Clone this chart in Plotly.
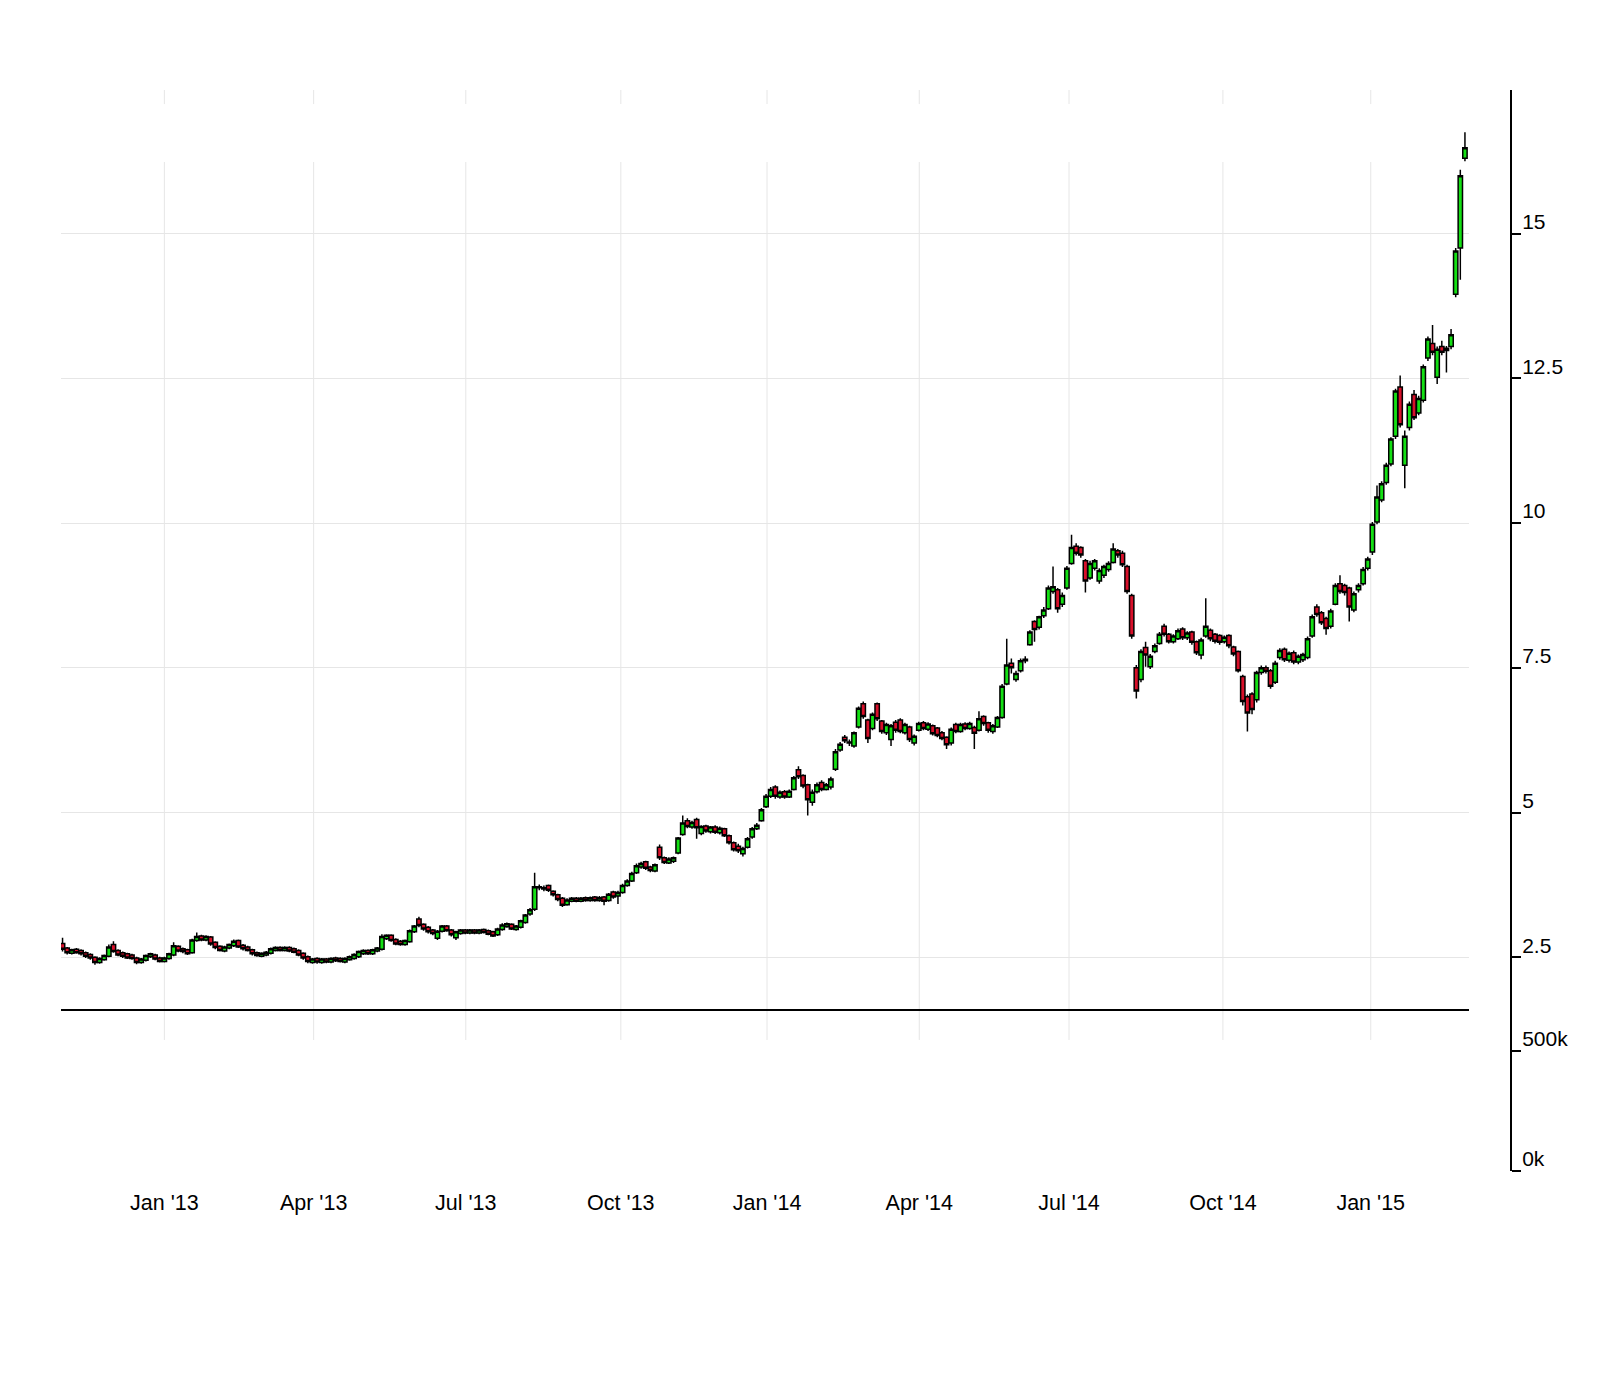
import pandas as pd
import plotly.graph_objects as go

# ---------------- data (one candle every 2nd trading day) ----------------
TRADE_DATES = pd.bdate_range("2012-11-01", "2015-02-27")[::2] + pd.Timedelta(hours=12)

OPEN = [
    2.74, 2.66, 2.57, 2.64, 2.62, 2.58, 2.55, 2.50, 2.41, 2.46,
    2.52, 2.72, 2.62, 2.58, 2.56, 2.54, 2.49, 2.41, 2.45, 2.51,
    2.54, 2.49, 2.43, 2.48, 2.54, 2.69, 2.65, 2.63, 2.58, 2.79,
    2.87, 2.80, 2.85, 2.76, 2.69, 2.61, 2.66, 2.70, 2.79, 2.71,
    2.68, 2.63, 2.58, 2.52, 2.54, 2.57, 2.62, 2.67, 2.62, 2.67,
    2.65, 2.62, 2.57, 2.51, 2.41, 2.48, 2.41, 2.47, 2.42, 2.49,
    2.48, 2.42, 2.46, 2.48, 2.51, 2.56, 2.62, 2.56, 2.61, 2.64,
    2.82, 2.88, 2.81, 2.78, 2.72, 2.77, 2.94, 3.16, 3.07, 3.02,
    2.97, 2.83, 2.95, 3.04, 2.97, 2.84, 2.91, 2.97, 2.92, 2.97,
    2.92, 2.98, 2.96, 2.94, 2.89, 2.98, 3.03, 3.07, 2.98, 3.02,
    3.10, 3.25, 3.33, 3.72, 3.70, 3.74, 3.64, 3.58, 3.52, 3.41,
    3.47, 3.52, 3.47, 3.53, 3.48, 3.54, 3.48, 3.54, 3.48, 3.63,
    3.56, 3.62, 3.74, 3.82, 3.96, 4.06, 4.15, 4.06, 3.99, 4.40,
    4.22, 4.13, 4.16, 4.30, 4.62, 4.86, 4.75, 4.88, 4.64, 4.77,
    4.67, 4.75, 4.65, 4.72, 4.60, 4.48, 4.42, 4.29, 4.40, 4.58,
    4.72, 4.86, 5.10, 5.28, 5.44, 5.27, 5.36, 5.27, 5.40, 5.74,
    5.64, 5.48, 5.18, 5.36, 5.52, 5.40, 5.44, 5.75, 6.08, 6.30,
    6.20, 6.15, 6.48, 6.88, 6.60, 6.45, 6.88, 6.58, 6.38, 6.26,
    6.56, 6.60, 6.38, 6.48, 6.20, 6.42, 6.55, 6.44, 6.50, 6.46,
    6.38, 6.30, 6.20, 6.52, 6.40, 6.53, 6.45, 6.47, 6.42, 6.66,
    6.55, 6.40, 6.48, 6.64, 7.22, 7.58, 7.30, 7.45, 7.62, 7.90,
    8.30, 8.20, 8.40, 8.52, 8.82, 8.85, 8.60, 8.88, 9.30, 9.60,
    9.58, 9.35, 9.05, 9.22, 9.00, 9.10, 9.20, 9.32, 9.52, 9.48,
    9.25, 8.75, 7.50, 7.30, 7.85, 7.52, 7.78, 7.92, 8.22, 8.08,
    7.95, 8.00, 8.17, 8.02, 8.12, 7.95, 7.72, 8.05, 8.15, 8.08,
    8.06, 7.95, 8.06, 7.86, 7.78, 7.35, 7.00, 7.05, 6.95, 7.42,
    7.50, 7.45, 7.25, 7.68, 7.82, 7.63, 7.76, 7.60, 7.64, 7.68,
    8.05, 8.55, 8.45, 8.35, 8.22, 8.60, 8.95, 8.92, 8.88, 8.50,
    8.85, 8.95, 9.22, 9.50, 10.02, 10.40, 10.70, 11.02, 11.50, 12.35,
    11.00, 11.65, 12.22, 11.90, 12.12, 12.85, 13.10, 12.52, 13.05, 13.02,
    13.05, 13.95, 14.75, 16.30,
]

HIGH = [
    2.84, 2.68, 2.65, 2.66, 2.64, 2.60, 2.57, 2.52, 2.50, 2.55,
    2.72, 2.78, 2.64, 2.60, 2.58, 2.56, 2.51, 2.49, 2.55, 2.58,
    2.56, 2.51, 2.51, 2.58, 2.76, 2.71, 2.67, 2.65, 2.82, 2.93,
    2.89, 2.88, 2.87, 2.78, 2.71, 2.70, 2.74, 2.81, 2.81, 2.73,
    2.70, 2.65, 2.60, 2.59, 2.61, 2.67, 2.69, 2.69, 2.69, 2.69,
    2.67, 2.64, 2.59, 2.53, 2.49, 2.50, 2.49, 2.49, 2.50, 2.51,
    2.50, 2.50, 2.53, 2.57, 2.62, 2.64, 2.64, 2.65, 2.68, 2.90,
    2.90, 2.90, 2.83, 2.80, 2.81, 2.98, 3.06, 3.20, 3.09, 3.04,
    2.99, 2.97, 3.06, 3.06, 2.99, 2.96, 2.99, 2.99, 2.99, 2.99,
    2.99, 3.00, 2.98, 2.96, 3.01, 3.09, 3.10, 3.09, 3.06, 3.15,
    3.25, 3.35, 3.96, 3.76, 3.74, 3.76, 3.66, 3.60, 3.54, 3.52,
    3.54, 3.54, 3.54, 3.55, 3.55, 3.56, 3.56, 3.56, 3.61, 3.65,
    3.65, 3.77, 3.85, 3.98, 4.12, 4.15, 4.17, 4.08, 4.12, 4.45,
    4.24, 4.23, 4.24, 4.58, 4.95, 4.90, 4.86, 4.91, 4.78, 4.79,
    4.77, 4.78, 4.76, 4.74, 4.62, 4.50, 4.46, 4.41, 4.58, 4.75,
    4.82, 5.08, 5.32, 5.44, 5.47, 5.38, 5.39, 5.40, 5.63, 5.80,
    5.66, 5.50, 5.40, 5.52, 5.56, 5.51, 5.62, 6.10, 6.22, 6.34,
    6.26, 6.40, 6.83, 6.92, 6.62, 6.73, 6.90, 6.60, 6.55, 6.53,
    6.60, 6.63, 6.55, 6.50, 6.35, 6.57, 6.58, 6.56, 6.52, 6.48,
    6.41, 6.32, 6.47, 6.55, 6.55, 6.56, 6.57, 6.50, 6.75, 6.68,
    6.57, 6.53, 6.67, 7.22, 8.00, 7.66, 7.45, 7.66, 7.70, 8.15,
    8.32, 8.40, 8.55, 8.92, 9.25, 8.88, 8.80, 9.26, 9.80, 9.65,
    9.60, 9.38, 9.35, 9.38, 9.22, 9.28, 9.34, 9.65, 9.55, 9.52,
    9.28, 8.78, 7.55, 7.82, 7.95, 7.74, 7.92, 8.12, 8.26, 8.10,
    8.08, 8.18, 8.20, 8.13, 8.14, 7.97, 8.02, 8.70, 8.18, 8.10,
    8.08, 8.06, 8.08, 7.88, 7.80, 7.38, 7.04, 7.08, 7.45, 7.54,
    7.54, 7.48, 7.62, 7.84, 7.85, 7.78, 7.80, 7.73, 7.76, 8.04,
    8.42, 8.60, 8.48, 8.38, 8.52, 8.96, 9.10, 8.95, 8.90, 8.82,
    8.96, 9.24, 9.42, 10.02, 10.65, 10.72, 11.04, 11.48, 12.32, 12.55,
    11.60, 12.10, 12.30, 12.20, 12.74, 13.22, 13.42, 13.05, 13.15, 13.06,
    13.35, 14.75, 16.10, 16.75,
]

LOW = [
    2.60, 2.55, 2.55, 2.56, 2.53, 2.49, 2.46, 2.37, 2.39, 2.44,
    2.50, 2.58, 2.52, 2.49, 2.47, 2.46, 2.38, 2.39, 2.43, 2.49,
    2.45, 2.41, 2.41, 2.46, 2.52, 2.59, 2.57, 2.54, 2.56, 2.77,
    2.78, 2.78, 2.70, 2.64, 2.60, 2.59, 2.64, 2.68, 2.66, 2.62,
    2.60, 2.53, 2.51, 2.50, 2.52, 2.55, 2.60, 2.60, 2.60, 2.59,
    2.57, 2.52, 2.46, 2.40, 2.39, 2.39, 2.39, 2.40, 2.40, 2.42,
    2.41, 2.40, 2.44, 2.46, 2.49, 2.54, 2.54, 2.54, 2.59, 2.62,
    2.80, 2.77, 2.71, 2.70, 2.70, 2.75, 2.92, 3.02, 2.96, 2.91,
    2.88, 2.80, 2.93, 2.94, 2.86, 2.80, 2.89, 2.90, 2.90, 2.90,
    2.90, 2.91, 2.88, 2.85, 2.87, 2.96, 3.01, 2.97, 2.96, 3.00,
    3.08, 3.22, 3.30, 3.66, 3.64, 3.63, 3.55, 3.47, 3.37, 3.39,
    3.45, 3.45, 3.45, 3.46, 3.46, 3.46, 3.46, 3.40, 3.46, 3.51,
    3.42, 3.60, 3.72, 3.80, 3.94, 4.03, 4.01, 3.97, 3.97, 4.18,
    4.11, 4.11, 4.13, 4.28, 4.60, 4.73, 4.72, 4.55, 4.61, 4.65,
    4.64, 4.63, 4.62, 4.58, 4.45, 4.33, 4.30, 4.24, 4.38, 4.55,
    4.70, 4.84, 5.08, 5.25, 5.24, 5.24, 5.24, 5.25, 5.38, 5.58,
    5.42, 4.95, 5.12, 5.33, 5.37, 5.38, 5.40, 5.72, 6.05, 6.20,
    6.15, 6.12, 6.45, 6.62, 6.20, 6.42, 6.58, 6.36, 6.34, 6.15,
    6.38, 6.37, 6.35, 6.22, 6.16, 6.40, 6.42, 6.41, 6.33, 6.30,
    6.25, 6.10, 6.16, 6.37, 6.38, 6.42, 6.43, 6.10, 6.40, 6.50,
    6.38, 6.36, 6.46, 6.62, 7.20, 7.40, 7.26, 7.42, 7.58, 7.88,
    7.95, 8.16, 8.36, 8.50, 8.78, 8.45, 8.55, 8.85, 9.28, 9.44,
    9.40, 8.80, 9.02, 9.18, 8.95, 9.05, 9.16, 9.30, 9.40, 9.24,
    8.78, 8.00, 6.97, 7.25, 7.52, 7.48, 7.75, 7.90, 8.04, 7.92,
    7.92, 7.98, 7.98, 7.98, 7.90, 7.72, 7.65, 8.02, 7.96, 7.92,
    7.90, 7.92, 7.84, 7.70, 7.42, 6.85, 6.40, 6.70, 6.90, 7.38,
    7.40, 7.14, 7.22, 7.64, 7.60, 7.59, 7.56, 7.56, 7.60, 7.65,
    8.02, 8.38, 8.24, 8.07, 8.18, 8.58, 8.78, 8.75, 8.30, 8.46,
    8.80, 8.92, 9.18, 9.45, 9.98, 10.36, 10.66, 10.98, 11.45, 11.65,
    10.60, 11.60, 11.78, 11.86, 12.08, 12.80, 12.90, 12.40, 12.90, 12.60,
    13.00, 13.90, 14.20, 16.25,
]

CLOSE = [
    2.64, 2.58, 2.63, 2.58, 2.56, 2.52, 2.49, 2.41, 2.48, 2.53,
    2.68, 2.60, 2.54, 2.52, 2.49, 2.48, 2.41, 2.47, 2.53, 2.56,
    2.47, 2.43, 2.49, 2.56, 2.70, 2.61, 2.60, 2.56, 2.80, 2.86,
    2.80, 2.86, 2.73, 2.67, 2.62, 2.68, 2.72, 2.78, 2.68, 2.65,
    2.62, 2.56, 2.53, 2.57, 2.59, 2.65, 2.67, 2.62, 2.67, 2.61,
    2.59, 2.54, 2.49, 2.43, 2.47, 2.42, 2.47, 2.42, 2.48, 2.44,
    2.43, 2.48, 2.51, 2.55, 2.60, 2.62, 2.56, 2.63, 2.66, 2.86,
    2.88, 2.79, 2.73, 2.72, 2.79, 2.96, 3.04, 3.05, 2.99, 2.94,
    2.91, 2.95, 3.04, 2.96, 2.89, 2.94, 2.97, 2.92, 2.97, 2.92,
    2.97, 2.93, 2.90, 2.87, 2.99, 3.06, 3.08, 2.99, 3.04, 3.13,
    3.23, 3.32, 3.72, 3.70, 3.68, 3.66, 3.58, 3.50, 3.40, 3.49,
    3.52, 3.47, 3.52, 3.48, 3.53, 3.48, 3.53, 3.47, 3.59, 3.54,
    3.62, 3.74, 3.82, 3.95, 4.08, 4.12, 4.04, 4.00, 4.10, 4.22,
    4.14, 4.20, 4.22, 4.56, 4.82, 4.76, 4.83, 4.74, 4.76, 4.68,
    4.75, 4.66, 4.73, 4.60, 4.48, 4.36, 4.34, 4.38, 4.55, 4.72,
    4.78, 5.05, 5.28, 5.40, 5.28, 5.35, 5.27, 5.37, 5.60, 5.62,
    5.46, 5.22, 5.35, 5.48, 5.40, 5.48, 5.58, 6.05, 6.18, 6.24,
    6.22, 6.38, 6.80, 6.66, 6.28, 6.70, 6.62, 6.40, 6.52, 6.50,
    6.42, 6.40, 6.52, 6.26, 6.32, 6.54, 6.45, 6.53, 6.36, 6.33,
    6.28, 6.17, 6.44, 6.40, 6.52, 6.45, 6.54, 6.37, 6.62, 6.54,
    6.42, 6.50, 6.64, 7.18, 7.55, 7.50, 7.40, 7.62, 7.65, 8.12,
    8.16, 8.38, 8.50, 8.88, 8.90, 8.52, 8.75, 9.22, 9.58, 9.48,
    9.45, 9.00, 9.30, 9.35, 9.18, 9.25, 9.30, 9.55, 9.45, 9.28,
    8.82, 8.05, 7.10, 7.78, 7.72, 7.70, 7.88, 8.08, 8.08, 7.95,
    8.05, 8.14, 8.02, 8.10, 7.94, 7.76, 7.98, 8.22, 8.00, 7.96,
    7.94, 8.03, 7.88, 7.74, 7.45, 6.92, 6.72, 6.78, 7.42, 7.50,
    7.44, 7.18, 7.58, 7.80, 7.64, 7.75, 7.60, 7.70, 7.73, 8.00,
    8.38, 8.42, 8.28, 8.18, 8.48, 8.92, 8.82, 8.80, 8.55, 8.78,
    8.92, 9.20, 9.38, 9.98, 10.45, 10.68, 11.00, 11.45, 12.28, 11.70,
    11.50, 12.05, 11.82, 12.15, 12.70, 13.18, 12.95, 13.00, 12.95, 12.98,
    13.25, 14.70, 16.00, 16.48,
]

# quarter ticks sit on the first trading days of each quarter, as on the reference's ordinal axis
TICK_DATES = ["2013-01-02 12:00", "2013-04-03 00:00", "2013-07-03 18:00", "2013-10-04 18:00",
              "2014-01-01 22:00", "2014-04-03 17:00", "2014-07-03 10:00", "2014-10-03 22:00",
              "2015-01-01 19:00"]
TICK_TEXT = ["Jan '13", "Apr '13", "Jul '13", "Oct '13", "Jan '14",
             "Apr '14", "Jul '14", "Oct '14", "Jan '15"]
PRICE_TICKS = [2.5, 5, 7.5, 10, 12.5, 15]
PRICE_TICK_TEXT = ["2.5", "5", "7.5", "10", "12.5", "15"]
VOLUME_TICKS = [0, 500000]
VOLUME_TICK_TEXT = ["0k", "500k"]

# ---------------- styling ----------------
UP = "#14e014"
DOWN = "#d8102a"
GRID = "#e6e6e6"
FONT = "Liberation Sans, Arial, sans-serif"
X_RANGE = ["2012-10-31 20:00", "2015-03-03 05:30"]
BREAKS = [dict(bounds=["sat", "mon"])]
X_DOMAIN = [0, 0.971]
PRICE_DOMAIN = [0.1503, 1.0]
VOL_DOMAIN = [0.0, 0.1503]

fig = go.Figure()
fig.add_trace(go.Candlestick(
    x=TRADE_DATES, open=OPEN, high=HIGH, low=LOW, close=CLOSE,
    increasing=dict(fillcolor=UP, line=dict(color="black", width=1.5)),
    decreasing=dict(fillcolor=DOWN, line=dict(color="black", width=1.5)),
    whiskerwidth=0, xaxis="x", yaxis="y", showlegend=False, hoverinfo="skip",
))
# empty volume pane
fig.add_trace(go.Scatter(x=[], y=[], xaxis="x2", yaxis="y2", showlegend=False, hoverinfo="skip"))

shapes = []
for d in TICK_DATES:
    for y0, y1 in [(0.1212, 0.9334), (0.9870, 1.0)]:
        shapes.append(dict(type="line", xref="x", yref="paper", x0=d, x1=d, y0=y0, y1=y1,
                           line=dict(color=GRID, width=1), layer="below"))

fig.update_layout(
    width=1610, height=1400,
    margin=dict(l=61, r=99, t=90, b=229),
    paper_bgcolor="white", plot_bgcolor="white",
    font=dict(family=FONT, size=21, color="black"),
    showlegend=False,
    boxgap=0.06, boxgroupgap=0,
    shapes=shapes,
    xaxis=dict(domain=X_DOMAIN, anchor="y", type="date", range=X_RANGE, rangebreaks=BREAKS,
               rangeslider=dict(visible=False), showgrid=False, showticklabels=False,
               showline=True, linecolor="black", linewidth=2, ticks="", zeroline=False),
    xaxis2=dict(domain=X_DOMAIN, anchor="y2", matches="x", type="date", range=X_RANGE,
                rangebreaks=BREAKS, showgrid=False, showline=False, zeroline=False,
                tickmode="array", tickvals=TICK_DATES, ticktext=TICK_TEXT,
                ticks="outside", ticklen=12, tickcolor="rgba(0,0,0,0)",
                tickfont=dict(family=FONT, size=21.5, color="black")),
    yaxis=dict(domain=PRICE_DOMAIN, anchor="free", position=1.0, side="right",
               range=[1.616, 17.479], tickmode="array", tickvals=PRICE_TICKS,
               ticktext=PRICE_TICK_TEXT, showgrid=True, gridcolor=GRID, gridwidth=1,
               showline=True, linecolor="black", linewidth=2,
               ticks="outside", ticklen=9, tickwidth=2, tickcolor="black",
               ticklabelshift=-12, ticklabelstandoff=-3,
               tickfont=dict(family=FONT, size=21, color="black"), zeroline=False),
    yaxis2=dict(domain=VOL_DOMAIN, anchor="free", position=1.0, side="right",
                range=[0, 677000], tickmode="array", tickvals=VOLUME_TICKS,
                ticktext=VOLUME_TICK_TEXT, showgrid=False,
                showline=True, linecolor="black", linewidth=2,
                ticks="outside", ticklen=9, tickwidth=2, tickcolor="black",
                ticklabelshift=-12, ticklabelstandoff=-3,
                tickfont=dict(family=FONT, size=21, color="black"), zeroline=False),
)

fig.write_html("out.html")
